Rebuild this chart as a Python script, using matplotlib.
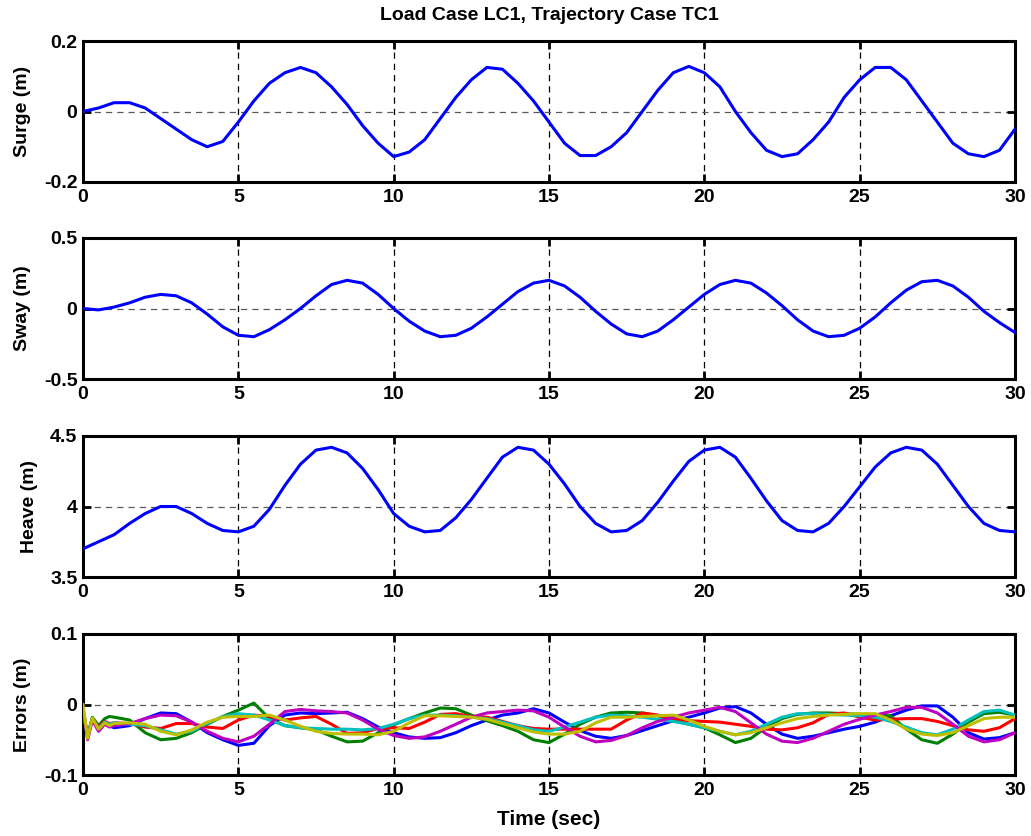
import numpy as np
import matplotlib
matplotlib.use("Agg")
import matplotlib.pyplot as plt

plt.rcParams['font.family'] = ['Liberation Sans', 'DejaVu Sans']
plt.rcParams['font.weight'] = 'bold'

# ---------------- data ----------------
t = np.arange(0, 30.01, 0.5)

surge = [0.000, 0.010, 0.025, 0.025, 0.010, -0.020, -0.050, -0.080, -0.100, -0.085,
         -0.030, 0.030, 0.080, 0.110, 0.125, 0.110, 0.070, 0.020, -0.040, -0.090,
         -0.128, -0.115, -0.080, -0.020, 0.040, 0.090, 0.125, 0.120, 0.080, 0.030,
         -0.030, -0.090, -0.125, -0.125, -0.100, -0.060, 0.000, 0.060, 0.110, 0.128,
         0.110, 0.070, 0.000, -0.060, -0.110, -0.128, -0.120, -0.080, -0.030, 0.040,
         0.090, 0.125, 0.125, 0.090, 0.030, -0.030, -0.090, -0.120, -0.128, -0.110,
         -0.050]

sway = [0.00, -0.01, 0.01, 0.04, 0.08, 0.10, 0.09, 0.04, -0.04, -0.13,
        -0.19, -0.20, -0.15, -0.08, 0.00, 0.09, 0.17, 0.20, 0.18, 0.10,
        0.00, -0.09, -0.16, -0.20, -0.19, -0.14, -0.06, 0.03, 0.12, 0.18,
        0.20, 0.16, 0.08, -0.02, -0.11, -0.18, -0.20, -0.16, -0.08, 0.01,
        0.10, 0.17, 0.20, 0.18, 0.11, 0.02, -0.08, -0.16, -0.20, -0.19,
        -0.14, -0.06, 0.04, 0.13, 0.19, 0.20, 0.16, 0.08, -0.02, -0.10,
        -0.17]

heave = [3.70, 3.75, 3.80, 3.88, 3.95, 4.00, 4.00, 3.95, 3.88, 3.83,
         3.82, 3.86, 3.98, 4.15, 4.30, 4.40, 4.42, 4.38, 4.27, 4.12,
         3.95, 3.86, 3.82, 3.83, 3.92, 4.05, 4.20, 4.35, 4.42, 4.40,
         4.30, 4.16, 4.00, 3.88, 3.82, 3.83, 3.90, 4.03, 4.18, 4.32,
         4.40, 4.42, 4.35, 4.20, 4.04, 3.90, 3.83, 3.82, 3.88, 4.00,
         4.14, 4.28, 4.38, 4.42, 4.40, 4.30, 4.15, 4.00, 3.88, 3.83,
         3.82]

t_err = np.concatenate([[0.0, 0.15, 0.3, 0.5, 0.7, 0.85], np.arange(1.0, 30.01, 0.5)])

err_blue = [-0.010, -0.045, -0.020, -0.035, -0.026, -0.030,
            -0.033, -0.030, -0.020, -0.012, -0.013, -0.025, -0.040, -0.050, -0.058, -0.055,
            -0.030, -0.015, -0.012, -0.013, -0.012, -0.011, -0.020, -0.032, -0.040, -0.046,
            -0.048, -0.047, -0.040, -0.030, -0.022, -0.015, -0.012, -0.006, -0.012, -0.025,
            -0.037, -0.045, -0.048, -0.044, -0.037, -0.030, -0.023, -0.018, -0.012, -0.005,
            -0.003, -0.012, -0.028, -0.042, -0.048, -0.045, -0.040, -0.035, -0.031, -0.025,
            -0.016, -0.008, -0.002, -0.002, -0.018, -0.040, -0.049, -0.047, -0.040]

err_green = [-0.010, -0.044, -0.018, -0.030, -0.020, -0.017,
             -0.018, -0.022, -0.040, -0.050, -0.048, -0.040, -0.028, -0.017, -0.008, 0.002,
             -0.020, -0.030, -0.033, -0.036, -0.045, -0.053, -0.052, -0.040, -0.029, -0.020,
             -0.012, -0.005, -0.006, -0.015, -0.023, -0.030, -0.038, -0.050, -0.054, -0.042,
             -0.028, -0.018, -0.012, -0.011, -0.012, -0.016, -0.022, -0.028, -0.033, -0.043,
             -0.054, -0.048, -0.032, -0.020, -0.014, -0.012, -0.012, -0.013, -0.014, -0.015,
             -0.016, -0.035, -0.050, -0.055, -0.042, -0.025, -0.013, -0.011, -0.015]

err_red = [-0.010, -0.045, -0.020, -0.032, -0.024, -0.027,
           -0.026, -0.027, -0.032, -0.034, -0.027, -0.027, -0.032, -0.034, -0.022, -0.015,
           -0.017, -0.022, -0.019, -0.017, -0.028, -0.041, -0.040, -0.034, -0.033, -0.034,
           -0.025, -0.014, -0.013, -0.017, -0.018, -0.024, -0.030, -0.034, -0.035, -0.035,
           -0.035, -0.035, -0.035, -0.022, -0.012, -0.015, -0.020, -0.023, -0.024, -0.025,
           -0.028, -0.031, -0.035, -0.036, -0.033, -0.026, -0.014, -0.012, -0.018, -0.022,
           -0.021, -0.020, -0.020, -0.024, -0.030, -0.036, -0.038, -0.033, -0.020]

err_cyan = [-0.008, -0.046, -0.020, -0.034, -0.025, -0.028,
            -0.026, -0.028, -0.030, -0.036, -0.042, -0.038, -0.027, -0.017, -0.013, -0.015,
            -0.022, -0.030, -0.033, -0.034, -0.035, -0.035, -0.036, -0.034, -0.028, -0.020,
            -0.015, -0.015, -0.016, -0.018, -0.020, -0.025, -0.030, -0.036, -0.038, -0.032,
            -0.025, -0.018, -0.015, -0.016, -0.018, -0.021, -0.024, -0.028, -0.033, -0.038,
            -0.043, -0.038, -0.028, -0.018, -0.013, -0.013, -0.014, -0.015, -0.016, -0.018,
            -0.024, -0.032, -0.040, -0.043, -0.035, -0.022, -0.010, -0.008, -0.015]

err_magenta = [-0.005, -0.050, -0.022, -0.038, -0.028, -0.032,
               -0.030, -0.027, -0.020, -0.015, -0.016, -0.025, -0.038, -0.048, -0.053, -0.045,
               -0.028, -0.010, -0.007, -0.009, -0.010, -0.012, -0.022, -0.035, -0.044, -0.048,
               -0.046, -0.038, -0.028, -0.018, -0.012, -0.010, -0.008, -0.009, -0.018, -0.032,
               -0.045, -0.053, -0.051, -0.044, -0.033, -0.024, -0.018, -0.012, -0.008, -0.004,
               -0.010, -0.026, -0.042, -0.052, -0.054, -0.048, -0.038, -0.028, -0.021, -0.015,
               -0.010, -0.004, -0.004, -0.012, -0.028, -0.045, -0.053, -0.050, -0.040]

err_yellow = [0.000, -0.048, -0.019, -0.035, -0.026, -0.030,
              -0.027, -0.026, -0.028, -0.038, -0.043, -0.036, -0.025, -0.018, -0.017, -0.017,
              -0.015, -0.022, -0.031, -0.038, -0.041, -0.042, -0.042, -0.043, -0.038, -0.026,
              -0.016, -0.016, -0.017, -0.018, -0.021, -0.027, -0.033, -0.039, -0.042, -0.042,
              -0.038, -0.026, -0.018, -0.018, -0.017, -0.016, -0.015, -0.022, -0.031, -0.038,
              -0.043, -0.040, -0.033, -0.026, -0.020, -0.017, -0.015, -0.014, -0.013, -0.013,
              -0.022, -0.035, -0.042, -0.044, -0.040, -0.030, -0.020, -0.018, -0.018]

x_ticks = [0, 5, 10, 15, 20, 25, 30]
panels = [
    ("Surge (m)", [-0.2, 0, 0.2], ["-0.2", "0", "0.2"]),
    ("Sway (m)", [-0.5, 0, 0.5], ["-0.5", "0", "0.5"]),
    ("Heave (m)", [3.5, 4, 4.5], ["3.5", "4", "4.5"]),
    ("Errors (m)", [-0.1, 0, 0.1], ["-0.1", "0", "0.1"]),
]

# ---------------- figure ----------------
fig = plt.figure(figsize=(10.31, 8.36), dpi=100)
left, width, height = 83 / 1031, 932 / 1031, 141 / 836
bottoms = [1 - 182 / 836, 1 - 379 / 836, 1 - 577 / 836, 1 - 775 / 836]

axes = []
for b, (ylab, yt, ytl) in zip(bottoms, panels):
    ax = fig.add_axes([left, b, width, height])
    ax.set_xlim(0, 30)
    ax.set_ylim(yt[0], yt[-1])
    ax.set_xticks(x_ticks)
    ax.set_xticklabels([str(v) for v in x_ticks])
    ax.set_yticks(yt)
    ax.set_yticklabels(ytl)
    ax.tick_params(direction='in', length=6, width=2, top=True, right=True,
                   labelsize=14)
    ax.tick_params(axis='x', pad=5)
    ax.tick_params(axis='y', pad=4)
    for s in ax.spines.values():
        s.set_linewidth(2.2)
    for xv in x_ticks[1:-1]:
        ax.axvline(xv, color='k', lw=0.9, ls=(0, (5, 4)), zorder=1)
    ax.axhline(yt[1], color='0.35', lw=0.9, ls=(0, (5, 4)), zorder=1)
    ax.set_ylabel(ylab, fontsize=14, fontweight='bold', labelpad=9)
    for lbl in ax.get_xticklabels() + ax.get_yticklabels():
        lbl.set_fontweight('bold')
    axes.append(ax)

lw = 2.2
axes[0].plot(t, surge, color=(0, 0, 1), lw=lw, zorder=3)
axes[1].plot(t, sway, color=(0, 0, 1), lw=lw, zorder=3)
axes[2].plot(t, heave, color=(0, 0, 1), lw=lw, zorder=3)

err_series = [
    (err_blue, (0, 0, 1)),
    (err_green, (0, 0.5, 0)),
    (err_red, (1, 0, 0)),
    (err_cyan, (0, 0.75, 0.75)),
    (err_magenta, (0.75, 0, 0.75)),
    (err_yellow, (0.75, 0.75, 0)),
]
for vals, c in err_series:
    axes[3].plot(t_err, vals, color=c, lw=lw, zorder=3)

fig.text(left + width / 2, 1 - 15 / 836, "Load Case LC1, Trajectory Case TC1",
         fontsize=14, fontweight='bold', ha='center', va='center')
axes[3].set_xlabel("Time (sec)", fontsize=15, fontweight='bold', labelpad=8)

fig.savefig("out.png", dpi=100)
